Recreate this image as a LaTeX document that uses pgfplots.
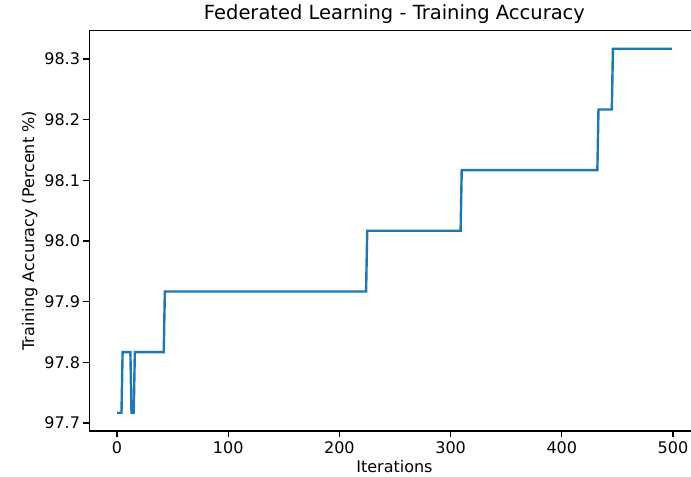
\documentclass[border={0pt 0pt -9.25pt 0pt}]{standalone}
\usepackage{fontspec}
\setmainfont{DejaVu Sans}
\usepackage{pgfplots}
\pgfplotsset{compat=1.18}
\definecolor{tabblue}{HTML}{1F77B4}
\begin{document}
\begin{tikzpicture}
\begin{axis}[
  scale only axis, width=610.3pt, height=400.4pt,
  xmin=-24.95, xmax=523.95, ymin=97.6867, ymax=98.3467,
  xtick={0,100,200,300,400,500},
  ytick={97.7,97.8,97.9,98.0,98.1,98.2,98.3},
  tick align=outside, tick pos=left, major tick length=5.8pt,
  every tick/.style={black, line width=1.3pt},
  axis line style={black, line width=1.3pt},
  /pgf/number format/assume math mode=true,
  yticklabel style={/pgf/number format/.cd, fixed, fixed zerofill, precision=1},
  tick label style={font=\fontsize{16}{19}\selectfont},
  xticklabel style={yshift=-1pt},
  label style={font=\fontsize{16}{19}\selectfont},
  title style={font=\fontsize{19.5}{23}\selectfont, yshift=-2pt},
  title={Federated Learning - Training Accuracy},
  xlabel={Iterations},
  ylabel={Training Accuracy (Percent \%)},
]
\addplot[tabblue, line width=2.4pt, line join=miter] coordinates {
  (0,97.7167) (4,97.7167) (5,97.8167) (12,97.8167) (13,97.7167) (15,97.7167)
  (16,97.8167) (42,97.8167) (43,97.9167) (224,97.9167) (225,98.0167)
  (309,98.0167) (310,98.1167) (432,98.1167) (433,98.2167) (445,98.2167)
  (446,98.3167) (499,98.3167)
};
\end{axis}
\path ([xshift=-89.3pt,yshift=-46pt]current axis.south west) rectangle ([xshift=0.65pt,yshift=30.6pt]current axis.north east);
\end{tikzpicture}
\end{document}
